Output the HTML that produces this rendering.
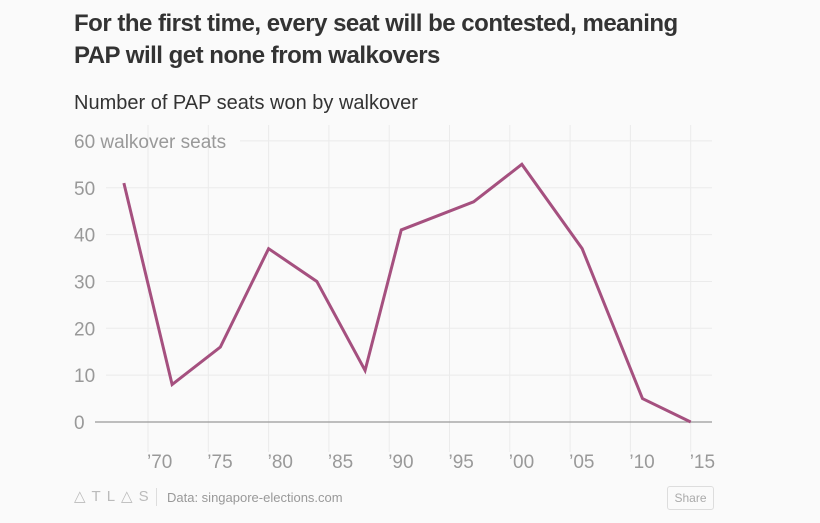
<!DOCTYPE html>
<html><head><meta charset="utf-8"><style>
body{margin:0;background:#fafafa;width:820px;height:523px;overflow:hidden;font-family:"Liberation Sans",sans-serif}
h1{position:absolute;left:74px;top:8px;margin:0;font-size:24px;line-height:32px;font-weight:bold;color:#333;letter-spacing:-0.5px}
h2{position:absolute;left:74px;top:92px;margin:0;font-size:20px;font-weight:normal;color:#333}
</style></head><body>
<h1>For the first time, every seat will be contested, meaning<br>PAP will get none from walkovers</h1>
<h2>Number of PAP seats won by walkover</h2>
<svg id="c" width="820" height="523" style="position:absolute;left:0;top:0"></svg>
<script>
const years=[1968,1972,1976,1980,1984,1988,1991,1997,2001,2006,2011,2015];
const seats=[51,8,16,37,30,11,41,47,55,37,5,0];
const yTicks=[0,10,20,30,40,50,60];
const xTicks=[1970,1975,1980,1985,1990,1995,2000,2005,2010,2015];
const xTickLabels=["’70","’75","’80","’85","’90","’95","’00","’05","’10","’15"];
const NS="http://www.w3.org/2000/svg";
const svg=document.getElementById('c');
const x=y=>148+(y-1970)*12.06;
const yS=v=>422-v*4.685;
function mk(t,a,p){const e=document.createElementNS(NS,t);for(const k in a)e.setAttribute(k,a[k]);(p||svg).appendChild(e);return e;}
xTicks.forEach((t,i)=>{
  const l=mk('line',{x1:x(t),x2:x(t),y1:125,y2:452,stroke:'#ebebeb','stroke-width':1});
  
  
  const tx=mk('text',{x:x(t)-1,y:468,'font-size':19,fill:'#999'});
  tx.textContent=xTickLabels[i];
  
  
});
yTicks.forEach(v=>{
  const lab=v===60?'60 walkover seats':String(v);
  const tx=mk('text',{x:74,y:yS(v)+7,'font-size':19,fill:'#999'});
  tx.textContent=lab;
  
  
  if(v>0){
    const l=mk('line',{x1:v===60?240:106,x2:712,y1:yS(v),y2:yS(v),stroke:'#ebebeb'});
    
    
  }
});
const ax=mk('line',{x1:95,x2:712,y1:yS(0),y2:yS(0),stroke:'#999','stroke-width':1.2});


const pl=mk('polyline',{points:years.map((yr,i)=>x(yr)+','+yS(seats[i])).join(' '),fill:'none',stroke:'#a5507f','stroke-width':3,'stroke-linejoin':'miter'});


</script>
<div style="position:absolute;left:74px;top:487px;font-size:15px;letter-spacing:6px;color:#bbb">△TL△S</div>
<div style="position:absolute;left:156px;top:488px;width:1px;height:18px;background:#ddd"></div>
<div style="position:absolute;left:167px;top:490px;font-size:13px;color:#999">Data: singapore-elections.com</div>
<div style="position:absolute;left:667px;top:486px;width:45px;height:22px;border:1px solid #ddd;border-radius:3px;font-size:12px;color:#aaa;text-align:center;line-height:22px;background:#fafafa">Share</div>
</body></html>
